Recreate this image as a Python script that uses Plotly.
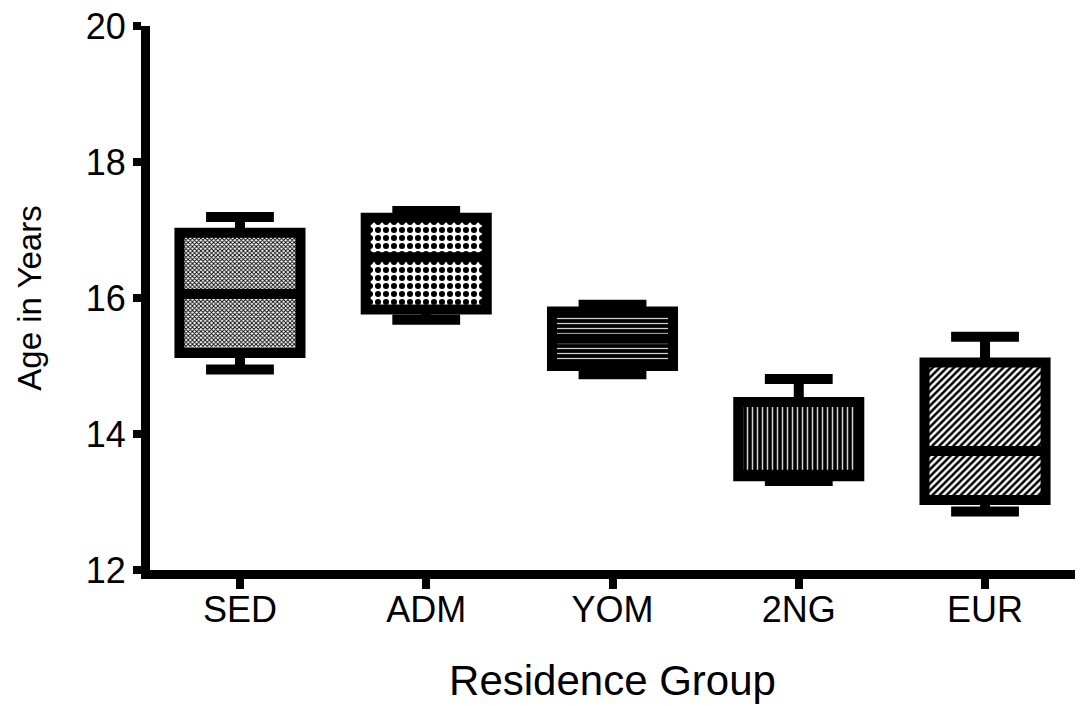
import plotly.graph_objects as go

groups = ["SED", "ADM", "YOM", "2NG", "EUR"]
lower_whisker = [14.95, 15.68, 14.88, 13.31, 12.86]
q1 = [15.19, 15.83, 15.00, 13.38, 13.03]
median = [16.06, 16.60, 15.40, 13.40, 13.75]
q3 = [16.96, 17.18, 15.80, 14.47, 15.05]
upper_whisker = [17.19, 17.28, 15.90, 14.81, 15.43]
patterns = ["x", ".", "-", "|", "/"]
pattern_sizes = [3, 8, 5, 5, 5]
pattern_solidity = [0.5, 0.45, 0.25, 0.3, 0.5]
pattern_fg = ["black", "black", "#d0d0d0", "#d0d0d0", "black"]
pattern_bg = ["white", "white", "black", "black", "white"]

fig = go.Figure()
fig.add_trace(go.Bar(
    x=groups,
    y=[b - a for a, b in zip(q1, q3)],
    base=q1,
    width=0.65,
    marker=dict(
        color="white",
        line=dict(width=0),
        pattern=dict(shape=patterns, size=pattern_sizes, solidity=pattern_solidity,
                     fgcolor=pattern_fg, bgcolor=pattern_bg, fillmode="replace"),
    ),
    hoverinfo="skip",
    showlegend=False,
))
fig.add_trace(go.Box(
    x=groups,
    q1=q1, median=median, q3=q3,
    lowerfence=lower_whisker, upperfence=upper_whisker,
    width=0.65,
    whiskerwidth=0.56,
    fillcolor="rgba(0,0,0,0)",
    line=dict(color="black", width=10),
    boxpoints=False,
    showlegend=False,
))

fig.update_layout(
    width=1081, height=706,
    margin=dict(l=150, r=6, t=23, b=133),
    paper_bgcolor="white", plot_bgcolor="white",
    font=dict(family="Liberation Sans, Arial, sans-serif", color="black"),
    barmode="overlay",
    xaxis=dict(
        range=[-0.483, 4.483],
        showline=True, linewidth=9, linecolor="black",
        ticks="outside", ticklen=10, tickwidth=8, tickcolor="black",
        ticklabelstandoff=-10,
        showgrid=False, zeroline=False,
        tickfont=dict(size=36),
        title=dict(text="Residence Group", font=dict(size=42), standoff=40),
    ),
    yaxis=dict(
        range=[12, 20],
        tickvals=[12, 14, 16, 18, 20],
        showline=True, linewidth=9, linecolor="black",
        ticks="outside", ticklen=8, tickwidth=8, tickcolor="black",
        showgrid=False, zeroline=False,
        tickfont=dict(size=36),
        title=dict(text="Age in Years", font=dict(size=33), standoff=38),
    ),
)

fig.write_html("out.html")
